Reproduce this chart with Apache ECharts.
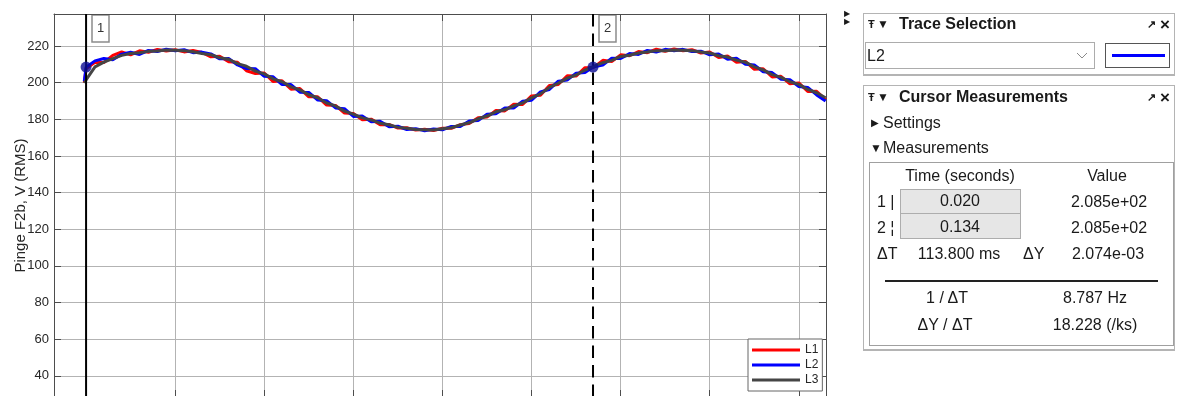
<!DOCTYPE html>
<html>
<head>
<meta charset="utf-8">
<script src="https://cdn.jsdelivr.net/npm/echarts@6/dist/echarts.min.js"></script>
<style>
html,body{margin:0;padding:0;background:#fff;width:1177px;height:396px;overflow:hidden;}
#chart{position:absolute;left:0;top:0;width:840px;height:396px;}
#panel{position:absolute;left:0;top:0;width:1177px;height:396px;pointer-events:none;font-family:'Liberation Sans',Arial,sans-serif;color:#1a1a1a;}
.t{position:absolute;white-space:nowrap;font-size:16px;line-height:1;transform:translateY(-50%);}
.c{transform:translate(-50%,-50%);}
.b{font-weight:bold;}
.box{position:absolute;box-sizing:border-box;}
</style>
</head>
<body>
<div id="chart"></div>
<div id="panel">
  <div class="t" style="left:844px;top:14px;font-size:8px;">&#9654;</div>
  <div class="t" style="left:844px;top:22px;font-size:8px;">&#9654;</div>

  <!-- Trace Selection -->
  <div class="box" style="left:863px;top:13px;width:312px;height:63px;border:1px solid #b4b4b4;border-bottom:2px solid #b4b4b4;"></div>
  <div class="t b" style="left:868px;top:24px;font-size:11px;">&#358;</div>
  <div class="t" style="left:877px;top:24px;font-size:12px;">&#9660;</div>
  <div class="t b" style="left:899px;top:24px;">Trace Selection</div>
  <div class="t b" style="left:1147px;top:24px;font-size:11px;">&#8599;</div>
  <div class="t b" style="left:1160px;top:24px;font-size:17px;">&#215;</div>
  <div class="box" style="left:865px;top:42px;width:230px;height:27px;border:1px solid #acacac;"></div>
  <div class="t" style="left:867px;top:56px;">L2</div>
  <svg class="box" style="left:1076px;top:50px;" width="12" height="10"><polyline points="1,3 6,8 11,3" fill="none" stroke="#8a8a8a" stroke-width="1"/></svg>
  <div class="box" style="left:1105px;top:43px;width:65px;height:25px;border:1.5px solid #555;"></div>
  <div class="box" style="left:1112px;top:54px;width:53px;height:3px;background:#0000ff;"></div>

  <!-- Cursor Measurements -->
  <div class="box" style="left:863px;top:85px;width:312px;height:266px;border:1px solid #b4b4b4;border-bottom:2px solid #b4b4b4;"></div>
  <div class="t b" style="left:868px;top:97px;font-size:11px;">&#358;</div>
  <div class="t" style="left:877px;top:97px;font-size:12px;">&#9660;</div>
  <div class="t b" style="left:899px;top:97px;">Cursor Measurements</div>
  <div class="t b" style="left:1147px;top:97px;font-size:11px;">&#8599;</div>
  <div class="t b" style="left:1160px;top:97px;font-size:17px;">&#215;</div>
  <div class="t" style="left:871px;top:123px;font-size:10px;">&#9654;</div>
  <div class="t" style="left:883px;top:123px;">Settings</div>
  <div class="t" style="left:870px;top:148px;font-size:12px;">&#9660;</div>
  <div class="t" style="left:883px;top:148px;">Measurements</div>

  <div class="box" style="left:869px;top:162px;width:305px;height:184px;border:1px solid #a0a0a0;"></div>
  <div class="t c" style="left:960px;top:176px;">Time (seconds)</div>
  <div class="t c" style="left:1107px;top:176px;">Value</div>
  <div class="t" style="left:877px;top:202px;">1 |</div>
  <div class="box" style="left:900px;top:189px;width:121px;height:25px;background:#e6e6e6;border:1px solid #adadad;"></div>
  <div class="t c" style="left:960px;top:201px;">0.020</div>
  <div class="t c" style="left:1109px;top:202px;">2.085e+02</div>
  <div class="t" style="left:877px;top:228px;">2 &#166;</div>
  <div class="box" style="left:900px;top:213px;width:121px;height:26px;background:#e6e6e6;border:1px solid #adadad;"></div>
  <div class="t c" style="left:960px;top:227px;">0.134</div>
  <div class="t c" style="left:1109px;top:228px;">2.085e+02</div>
  <div class="t" style="left:877px;top:254px;">&#916;T</div>
  <div class="t c" style="left:959px;top:254px;">113.800 ms</div>
  <div class="t" style="left:1023px;top:254px;">&#916;Y</div>
  <div class="t c" style="left:1108px;top:254px;">2.074e-03</div>
  <div class="box" style="left:885px;top:280px;width:273px;height:1.5px;background:#222;"></div>
  <div class="t c" style="left:947px;top:298px;">1 / &#916;T</div>
  <div class="t c" style="left:1095px;top:298px;">8.787 Hz</div>
  <div class="t c" style="left:945px;top:325px;">&#916;Y / &#916;T</div>
  <div class="t c" style="left:1095px;top:325px;">18.228 (/ks)</div>
</div>
<script>
// Sample times (s) shared by the three phase traces
const times = [0.0196, 0.020, 0.022, 0.024, 0.026, 0.028, 0.030, 0.032, 0.034, 0.036,
  0.038, 0.040, 0.042, 0.044, 0.046, 0.048, 0.050, 0.052, 0.054, 0.056,
  0.058, 0.060, 0.062, 0.064, 0.066, 0.068, 0.070, 0.072, 0.074, 0.076,
  0.078, 0.080, 0.082, 0.084, 0.086, 0.088, 0.090, 0.092, 0.094, 0.096,
  0.098, 0.100, 0.102, 0.104, 0.106, 0.108, 0.110, 0.112, 0.114, 0.116,
  0.118, 0.120, 0.122, 0.124, 0.126, 0.128, 0.130, 0.132, 0.1338, 0.136,
  0.138, 0.140, 0.142, 0.144, 0.146, 0.148, 0.150, 0.152, 0.154, 0.156,
  0.158, 0.160, 0.162, 0.164, 0.166, 0.168, 0.170, 0.172, 0.174, 0.176,
  0.178, 0.180, 0.182, 0.184, 0.186];

// RMS voltage per phase (V)
const seriesL1 = [200.0, 207.6, 211.1, 211.0, 214.9, 216.8, 215.2, 217.4, 216.6, 218.2,
  217.3, 218.0, 216.8, 217.6, 216.5, 214.1, 214.4, 211.4, 211.1, 206.5,
  205.0, 205.3, 200.6, 201.0, 196.4, 196.8, 192.3, 192.3, 187.8, 187.6,
  183.4, 183.2, 179.8, 180.1, 177.1, 177.2, 175.2, 175.4, 174.1, 174.6,
  173.9, 175.1, 175.1, 177.1, 177.7, 180.9, 181.2, 184.8, 184.6, 188.2,
  188.1, 192.8, 193.2, 198.5, 199.0, 203.8, 203.6, 208.2, 208.1, 212.2,
  211.6, 215.2, 214.7, 217.0, 216.4, 218.3, 217.2, 218.4, 217.4, 218.0,
  216.2, 216.8, 213.7, 214.6, 211.2, 211.6, 207.3, 207.6, 203.1, 203.5,
  199.4, 199.9, 195.2, 195.3, 190.8];

const seriesL2 = [200.8, 208.5, 211.9, 213.2, 212.5, 215.6, 216.6, 215.4, 217.6, 217.0,
  218.3, 217.4, 218.0, 216.4, 216.7, 215.7, 213.0, 213.2, 209.7, 207.7,
  207.6, 203.5, 203.2, 199.0, 199.0, 194.8, 194.7, 190.5, 190.2, 186.2,
  185.8, 181.6, 181.8, 178.7, 178.9, 176.0, 176.2, 174.4, 174.9, 173.8,
  174.7, 174.3, 176.1, 176.1, 179.1, 179.3, 182.8, 183.0, 186.2, 186.2,
  189.9, 190.4, 195.0, 196.3, 200.8, 201.4, 205.2, 205.6, 208.5, 209.6,
  213.4, 213.2, 215.9, 215.4, 217.6, 216.7, 218.2, 217.4, 218.2, 217.0,
  217.2, 215.2, 215.7, 212.8, 213.4, 210.0, 209.7, 206.0, 205.5, 201.9,
  201.6, 197.9, 197.4, 193.3, 190.0];

const seriesL3 = [199.8, 201.5, 208.6, 211.2, 213.1, 214.9, 215.9, 216.3, 217.1, 217.3,
  217.8, 217.7, 217.5, 216.9, 215.9, 215.3, 213.6, 212.8, 210.4, 209.0,
  206.3, 204.8, 202.1, 200.5, 197.7, 196.1, 193.4, 191.8, 188.9, 187.3,
  184.5, 182.8, 180.8, 179.7, 177.9, 177.0, 175.6, 175.1, 174.4, 174.3,
  174.2, 174.8, 175.4, 176.9, 178.1, 180.3, 181.8, 184.1, 185.2, 187.3,
  188.9, 191.7, 193.9, 197.4, 199.7, 202.5, 204.2, 206.9, 208.8, 210.9,
  212.2, 214.3, 215.0, 216.2, 216.7, 217.5, 217.5, 217.9, 217.7, 217.5,
  216.7, 216.2, 214.7, 214.0, 212.3, 211.2, 208.6, 207.0, 204.4, 202.9,
  200.5, 199.1, 196.3, 194.5, 191.8];

// Axis ticks
const xTicks = [0.04, 0.06, 0.08, 0.10, 0.12, 0.14, 0.16, 0.18];
const yTicks = [40, 60, 80, 100, 120, 140, 160, 180, 200, 220];

// Cursor positions (s) and the L2 value read at each cursor
const cursorTimes = [0.020, 0.1338];
const cursorValues = [208.5, 208.5];
const cursorNames = ['1', '2'];

const xMin = 0.0128, xMax = 0.1861, yMin = 28.4, yMax = 237.5;
const font = "'Liberation Sans', Arial, sans-serif";
const axisColor = '#4d4d4d', gridColor = '#b3b3b3';
const pairs = v => times.map((t, i) => [t, v[i]]);

const chart = echarts.init(document.getElementById('chart'), null, {renderer: 'canvas'});

function xAxisDef(pos, showSplit) {
  return {
    type: 'value', min: xMin, max: xMax, position: pos,
    axisLine: {show: true, onZero: false, lineStyle: {color: axisColor, width: 1}},
    axisTick: {show: true, inside: true, length: 7, customValues: xTicks, lineStyle: {color: axisColor}},
    axisLabel: {show: pos === 'bottom', customValues: xTicks, color: '#262626', fontSize: 13, fontFamily: font},
    splitLine: {show: showSplit, lineStyle: {color: gridColor, width: 1}}
  };
}
function yAxisDef(pos, showSplit) {
  return {
    type: 'value', min: yMin, max: yMax, position: pos,
    name: pos === 'left' ? 'Pinge F2b, V (RMS)' : '',
    nameLocation: 'middle', nameGap: 26, nameMoveOverlap: false,
    nameTextStyle: {fontSize: 15, color: '#262626', fontFamily: font},
    axisLine: {show: true, onZero: false, lineStyle: {color: axisColor, width: 1}},
    axisTick: {show: true, inside: true, length: 7, customValues: yTicks, lineStyle: {color: axisColor}},
    axisLabel: {show: pos === 'left', customValues: yTicks, color: '#262626', fontSize: 13, fontFamily: font, margin: 5},
    splitLine: {show: showSplit, lineStyle: {color: gridColor, width: 1}}
  };
}

const lineSeries = (name, color, values) => ({
  name: name, type: 'line', data: pairs(values), xAxisIndex: 0, yAxisIndex: 0,
  symbol: 'none', showSymbol: false, smooth: false,
  lineStyle: {color: color, width: 3}, itemStyle: {color: color}
});

// Vertical cursor lines spanning the full plot height
const cursorLine = (i, width, type) => ({
  name: 'cursor ' + cursorNames[i], type: 'line', xAxisIndex: 0, yAxisIndex: 0, z: 4,
  data: [[cursorTimes[i], yMin], [cursorTimes[i], yMax]],
  symbol: 'none', silent: true,
  lineStyle: {color: '#000', width: width, type: type}
});

const option = {
  animation: false,
  grid: {left: 54, right: 14, top: 14, height: 383, outerBoundsMode: 'none'},
  legend: {
    data: ['L1', 'L2', 'L3'], orient: 'vertical', left: 748, top: 339,
    icon: 'rect', itemWidth: 48, itemHeight: 3, itemGap: 3,
    padding: [5, 4, 5, 4], backgroundColor: '#fff', borderColor: '#666', borderWidth: 1,
    textStyle: {fontSize: 12, color: '#262626', fontFamily: font}
  },
  xAxis: [xAxisDef('bottom', true), xAxisDef('top', false)],
  yAxis: [yAxisDef('left', true), yAxisDef('right', false)],
  series: [
    lineSeries('L1', '#ff0000', seriesL1),
    lineSeries('L2', '#0000ff', seriesL2),
    lineSeries('L3', '#454545', seriesL3),
    cursorLine(0, 2, 'solid'),
    cursorLine(1, 2, [12.5, 7]),
    {
      name: 'cursor values', type: 'scatter', xAxisIndex: 0, yAxisIndex: 0, z: 5,
      data: cursorTimes.map((t, i) => [t, cursorValues[i]]),
      symbolSize: 11, itemStyle: {color: '#0c0c94'}
    }
  ]
};
chart.setOption(option);

// Cursor tags next to each cursor line, at the top of the plot
const tags = [];
cursorTimes.forEach((t, i) => {
  const px = chart.convertToPixel({xAxisIndex: 0}, t);
  tags.push({
    type: 'group', x: Math.round(px) + 6, y: 15, children: [
      {type: 'rect', shape: {x: 0, y: 0, width: 17, height: 27},
       style: {fill: '#fff', stroke: '#8c8c8c', lineWidth: 1.5}},
      {type: 'text', x: 8.5, y: 13.5,
       style: {text: cursorNames[i], fill: '#333', font: '13px ' + font, align: 'center', verticalAlign: 'middle'}}
    ]
  });
});
chart.setOption({graphic: tags});
</script>
</body>
</html>
